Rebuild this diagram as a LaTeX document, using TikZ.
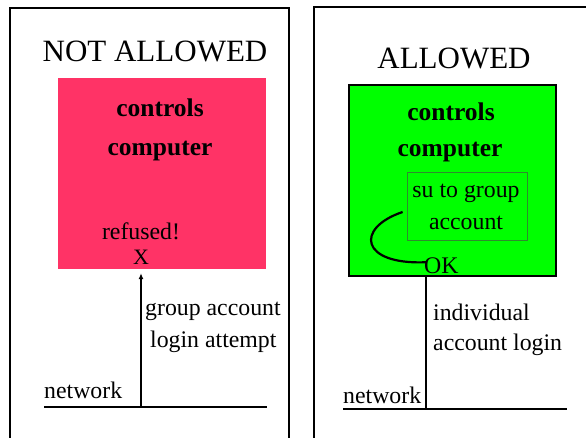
\documentclass[tikz,border=0pt]{standalone}
\usepackage{fontspec}
\setmainfont{Liberation Serif}
\usetikzlibrary{arrows.meta}
\definecolor{denied}{HTML}{FF3366}
\definecolor{granted}{HTML}{00FF00}
\definecolor{innerline}{HTML}{2E8B2E}
\tikzset{
  panel/.style={line width=2pt},
  title/.style={anchor=base,font=\fontsize{31}{31}\selectfont},
  label/.style={anchor=base,font=\fontsize{23.8}{24}\selectfont,inner sep=0pt},
  boldlabel/.style={anchor=base,font=\fontsize{25.5}{26}\selectfont\bfseries,inner sep=0pt},
  net/.style={line width=2pt},
}
\begin{document}
\begin{tikzpicture}[x=1pt,y=-1pt]
\useasboundingbox (0,0) rectangle (586,438);
\clip (0,0) rectangle (586,438);
\fill[white] (0,0) rectangle (586,438);

% ---- left panel: group login refused ----
\draw[panel] (10,450) -- (10,8) -- (289,8) -- (289,450);
\node[title] (tl) at (155,62) {NOT ALLOWED};
\node[fill=denied,inner sep=0pt,minimum width=208pt,minimum height=191pt] (deny) at (162,173.5) {};
\node[boldlabel] (c1) at (160,117) {controls};
\node[boldlabel] (p1) at (160,156) {computer};
\node[label] (ref) at (141,240) {refused!};
\node[label,font=\fontsize{22}{22}\selectfont] (x) at (141,265) {X};
\node[label,anchor=base west] (ga) at (145,315) {group account};
\node[label,anchor=base west] (la) at (150,347) {login attempt};
\node[label,anchor=base west] (n1) at (44,398) {network};
\coordinate (l1) at (44,407);
\coordinate (r1) at (267,407);
\draw[net] (l1) -- (r1);
\coordinate (a1) at (141,407);
\coordinate (t1) at (a1 |- deny.south);
\draw[line width=1.8pt,-{Latex[length=6pt,width=5pt]}] (a1) -- ([shift={(0,4)}]t1);

% ---- right panel: individual login, then su ----
\draw[panel] (314,450) -- (314,7) -- (600,7);
\node[title] (tr) at (454,69) {ALLOWED};
\node[draw=black,line width=2pt,fill=granted,inner sep=0pt,minimum width=207pt,minimum height=191pt] (ok) at (452,181) {};
\node[boldlabel] (c2) at (451,121) {controls};
\node[boldlabel] (p2) at (450,157) {computer};
\node[draw=innerline,line width=0.8pt,inner sep=0pt,minimum width=120pt,minimum height=68pt] (su) at (467,206) {};
\node[label] (s1) at (466,198) {su to group};
\node[label] (s2) at (466,230) {account};
\node[label,anchor=base west] (okt) at (424,274) {OK};
\draw[line width=2.2pt] ([shift={(-4,6)}]su.west) .. controls (355,228) and (360,265) .. ([shift={(2,-4)}]okt.west);
\node[label,anchor=base west] (i1) at (433,320) {individual};
\node[label,anchor=base west] (i2) at (433,350) {account login};
\node[label,anchor=base west] (n2) at (343,403) {network};
\coordinate (l2) at (343,409);
\coordinate (r2) at (567,409);
\draw[net] (l2) -- (r2);
\coordinate (a2) at (426,409);
\draw[line width=1.5pt] (a2) -- (a2 |- ok.south);
\end{tikzpicture}
\end{document}
